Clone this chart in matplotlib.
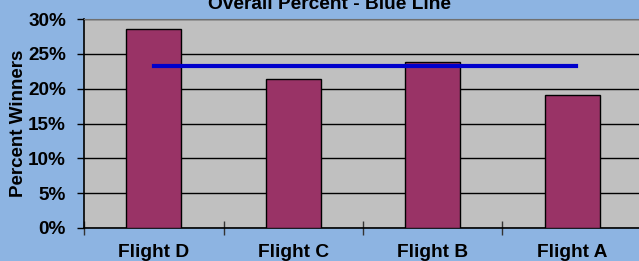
import numpy as np
import matplotlib
matplotlib.use("Agg")
import matplotlib.pyplot as plt
from matplotlib.ticker import PercentFormatter

# chart data
flights = ["Flight D", "Flight C", "Flight B", "Flight A"]
percent_winners = [28.6, 21.4, 23.8, 19.05]
overall_percent = 23.25

bg_color = "#8DB4E2"
plot_color = "#C0C0C0"
bar_color = "#993366"
line_color = "#0000CC"

plt.rcParams['font.family'] = ['Liberation Sans', 'DejaVu Sans']
plt.rcParams['font.weight'] = 'bold'

fig = plt.figure(figsize=(6.39, 2.61), dpi=100, facecolor=bg_color)
ax = fig.add_axes([84 / 639, 1 - 228 / 261, 558 / 639, 209 / 261])
ax.set_facecolor(plot_color)

x = np.arange(len(flights))
ax.bar(x, percent_winners, width=0.395, color=bar_color, edgecolor="black", linewidth=1.0, zorder=3)
ax.plot([x[0], x[-1] + 0.03], [overall_percent, overall_percent], color=line_color, linewidth=3, zorder=4)

ax.set_ylim(0, 30)
ax.set_xlim(-0.5, len(flights) - 0.5)
ax.set_yticks(np.arange(0, 31, 5))
ax.yaxis.set_major_formatter(PercentFormatter(decimals=0))
ax.grid(axis="y", color="black", linewidth=1.0, zorder=1)
ax.set_axisbelow(True)

ax.set_xticks(x)
ax.set_xticklabels(flights, fontsize=13.8, fontweight="bold")
ax.tick_params(axis="x", length=0, pad=11.5)
ax.set_xticks(np.arange(-0.5, len(flights), 1), minor=True)
ax.tick_params(axis="x", which="minor", length=10, direction="inout", width=1, color="#333333")
ax.tick_params(axis="y", labelsize=13.6, length=5, width=1, pad=8)
for lbl in ax.get_yticklabels():
    lbl.set_fontweight("bold")

for side in ["left", "bottom"]:
    ax.spines[side].set_color("black")
    ax.spines[side].set_linewidth(1.2)
ax.spines["top"].set_color("#707070")
ax.spines["right"].set_visible(False)

ax.set_ylabel("Percent Winners", fontsize=13.5, fontweight="bold")
ax.yaxis.set_label_coords(-(84 - 27) / 558, 0.5)
fig.text(329 / 639, 1 - 9 / 261, "Overall Percent - Blue Line", ha="center", va="baseline",
         fontsize=13.8, fontweight="bold")

fig.savefig("out.png", dpi=100, facecolor=bg_color)
